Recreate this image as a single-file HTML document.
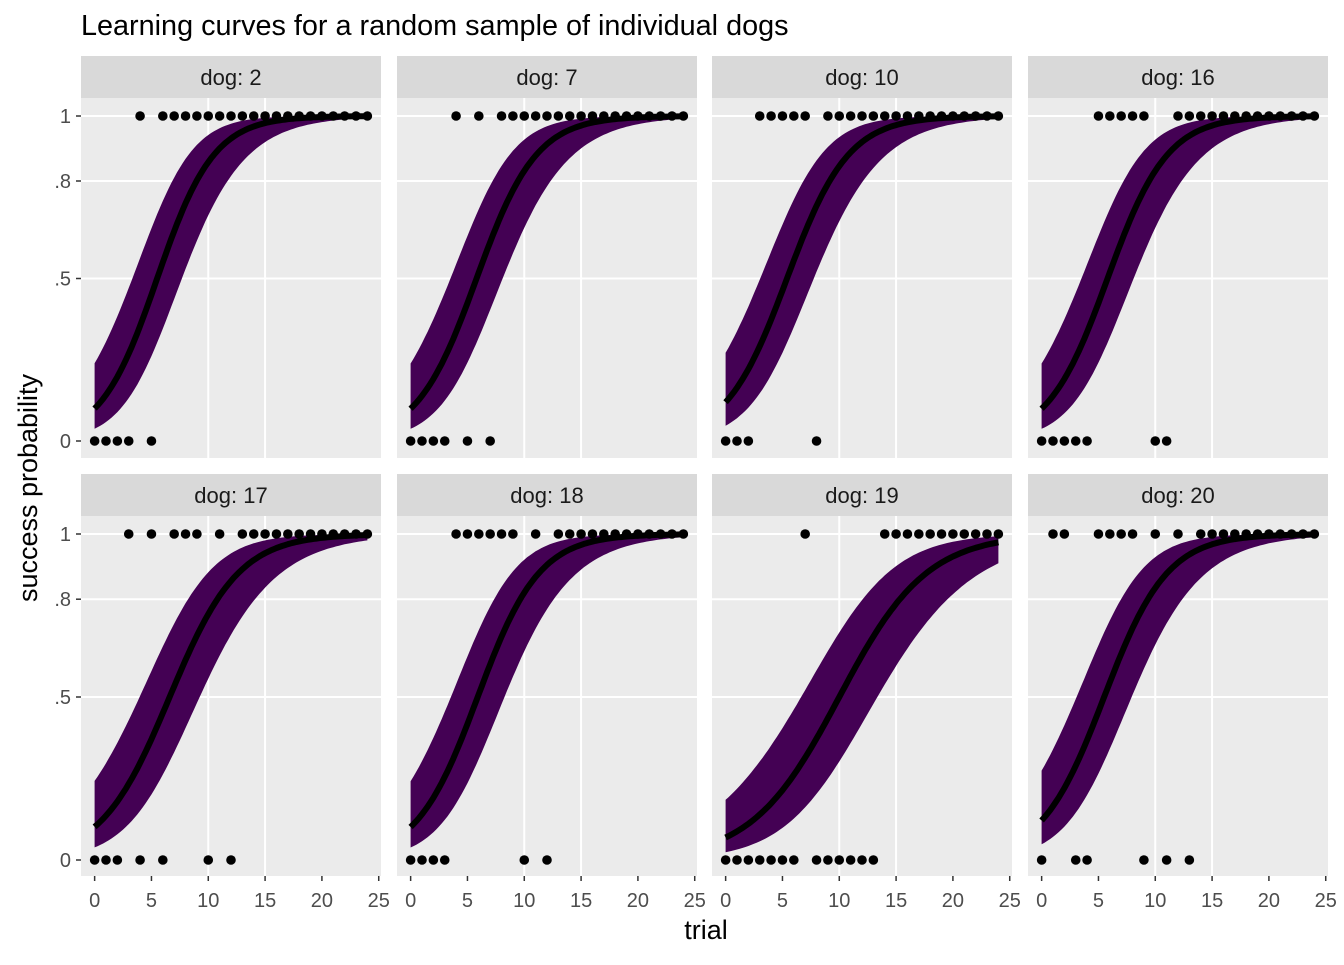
<!DOCTYPE html>
<html><head><meta charset="utf-8"><style>
html,body{margin:0;padding:0;background:#fff;}
svg text{font-family:"Liberation Sans",Arial,sans-serif;}
</style></head><body>
<svg id="chart" width="1344" height="960" xmlns="http://www.w3.org/2000/svg">
<text x="81" y="35" font-size="28.8" fill="#000">Learning curves for a random sample of individual dogs</text>
<text x="706" y="939" font-size="27" fill="#000" text-anchor="middle">trial</text>
<text transform="translate(37,488) rotate(-90)" font-size="27" fill="#000" text-anchor="middle">success probability</text>
</svg>
<script>
const dogs = [2, 7, 10, 16, 17, 18, 19, 20];
const midpoints = [5.5, 5.8, 5.4, 5.8, 6.6, 5.9, 10.0, 5.5];
const slopes = [0.40, 0.38, 0.37, 0.38, 0.33, 0.37, 0.26, 0.36];
const successes = [
 [0,0,0,0,1,0,1,1,1,1,1,1,1,1,1,1,1,1,1,1,1,1,1,1,1],
 [0,0,0,0,1,0,1,0,1,1,1,1,1,1,1,1,1,1,1,1,1,1,1,1,1],
 [0,0,0,1,1,1,1,1,0,1,1,1,1,1,1,1,1,1,1,1,1,1,1,1,1],
 [0,0,0,0,0,1,1,1,1,1,0,0,1,1,1,1,1,1,1,1,1,1,1,1,1],
 [0,0,0,1,0,1,0,1,1,1,0,1,0,1,1,1,1,1,1,1,1,1,1,1,1],
 [0,0,0,0,1,1,1,1,1,1,0,1,0,1,1,1,1,1,1,1,1,1,1,1,1],
 [0,0,0,0,0,0,0,1,0,0,0,0,0,0,1,1,1,1,1,1,1,1,1,1,1],
 [0,1,1,0,0,1,1,1,1,0,1,0,1,0,1,1,1,1,1,1,1,1,1,1,1]
];
const xTicks = [0, 5, 10, 15, 20, 25];
const yTicks = [0, 0.5, 0.8, 1];
const yTickLabels = ["0", ".5", ".8", "1"];
const xGrid = [10, 15];
const yGrid = [0.5, 0.8, 1];

const NS = "http://www.w3.org/2000/svg";
const svg = document.getElementById('chart');
function mk(tag, attrs, parent){const e=document.createElementNS(NS,tag);for(const k in attrs)e.setAttribute(k,attrs[k]);(parent||svg).appendChild(e);return e;}
const colX = [81, 397, 712, 1028], PW = 300;
const rowY = [98, 516], PH = 360;
const inv = v => 1/(1+Math.exp(-v));
dogs.forEach((dog, i) => {
  const c = i % 4, r = Math.floor(i / 4);
  const px = colX[c], py = rowY[r];
  const xs = t => px + (t + 1.2) / 26.4 * PW;
  const ys = p => py + 343 + r - p * (325 + r);
  const g = mk('g', {});
  
  
  const strip = mk('rect', {x: px, y: py - 42, width: PW, height: 42, fill: '#d9d9d9'}, g);
  
  
  const st = mk('text', {x: px + PW/2, y: py - 13, 'font-size': 22, fill: '#1a1a1a', 'text-anchor': 'middle'}, g);
  st.textContent = 'dog: ' + dog;
  
  
  const bg = mk('rect', {x: px, y: py, width: PW, height: PH, fill: '#ebebeb'}, g);
  
  
  yGrid.forEach(v => { const l = mk('line', {x1: px, x2: px+PW, y1: ys(v), y2: ys(v), stroke: '#fff', 'stroke-width': 2}, g);   });
  xGrid.forEach(v => { const l = mk('line', {x1: xs(v), x2: xs(v), y1: py, y2: py+PH, stroke: '#fff', 'stroke-width': 2}, g);   });
  const m = midpoints[i], k = slopes[i];
  let up = [], lo = [], mean = [];
  for (let t = 0; t <= 24.001; t += 0.25) {
    const z = k * (t - m);
    const w = Math.sqrt(0.7 + 0.08 * z * z);
    up.push(xs(t).toFixed(1) + ',' + ys(inv(z + w)).toFixed(1));
    lo.push(xs(t).toFixed(1) + ',' + ys(inv(z - w)).toFixed(1));
    mean.push(xs(t).toFixed(1) + ',' + ys(inv(z)).toFixed(1));
  }
  const band = mk('polygon', {points: up.concat(lo.reverse()).join(' '), fill: '#440154'}, g);
  
  
  const line = mk('polyline', {points: mean.join(' '), fill: 'none', stroke: '#000', 'stroke-width': 6, 'stroke-linejoin': 'round'}, g);
  
  
  successes[i].forEach((s, t) => {
    const pt = mk('circle', {cx: xs(t), cy: ys(s), r: 4.8, fill: '#000'}, g);
    
    
  });
  if (c === 0) {
    yTicks.forEach((v, j) => {
      mk('line', {x1: px-5, x2: px, y1: ys(v), y2: ys(v), stroke: '#333', 'stroke-width': 1.5}, g);
      const tl = mk('text', {x: px-10, y: ys(v)+7, 'font-size': 20, fill: '#4d4d4d', 'text-anchor': 'end'}, g);
      tl.textContent = yTickLabels[j];
      
      
    });
  }
  if (r === 1) {
    xTicks.forEach(v => {
      mk('line', {x1: xs(v), x2: xs(v), y1: py+PH, y2: py+PH+5, stroke: '#333', 'stroke-width': 1.5}, g);
      const tl = mk('text', {x: xs(v), y: py+PH+31, 'font-size': 20, fill: '#4d4d4d', 'text-anchor': 'middle'}, g);
      tl.textContent = v;
      
      
    });
  }
});
</script>
</body></html>
